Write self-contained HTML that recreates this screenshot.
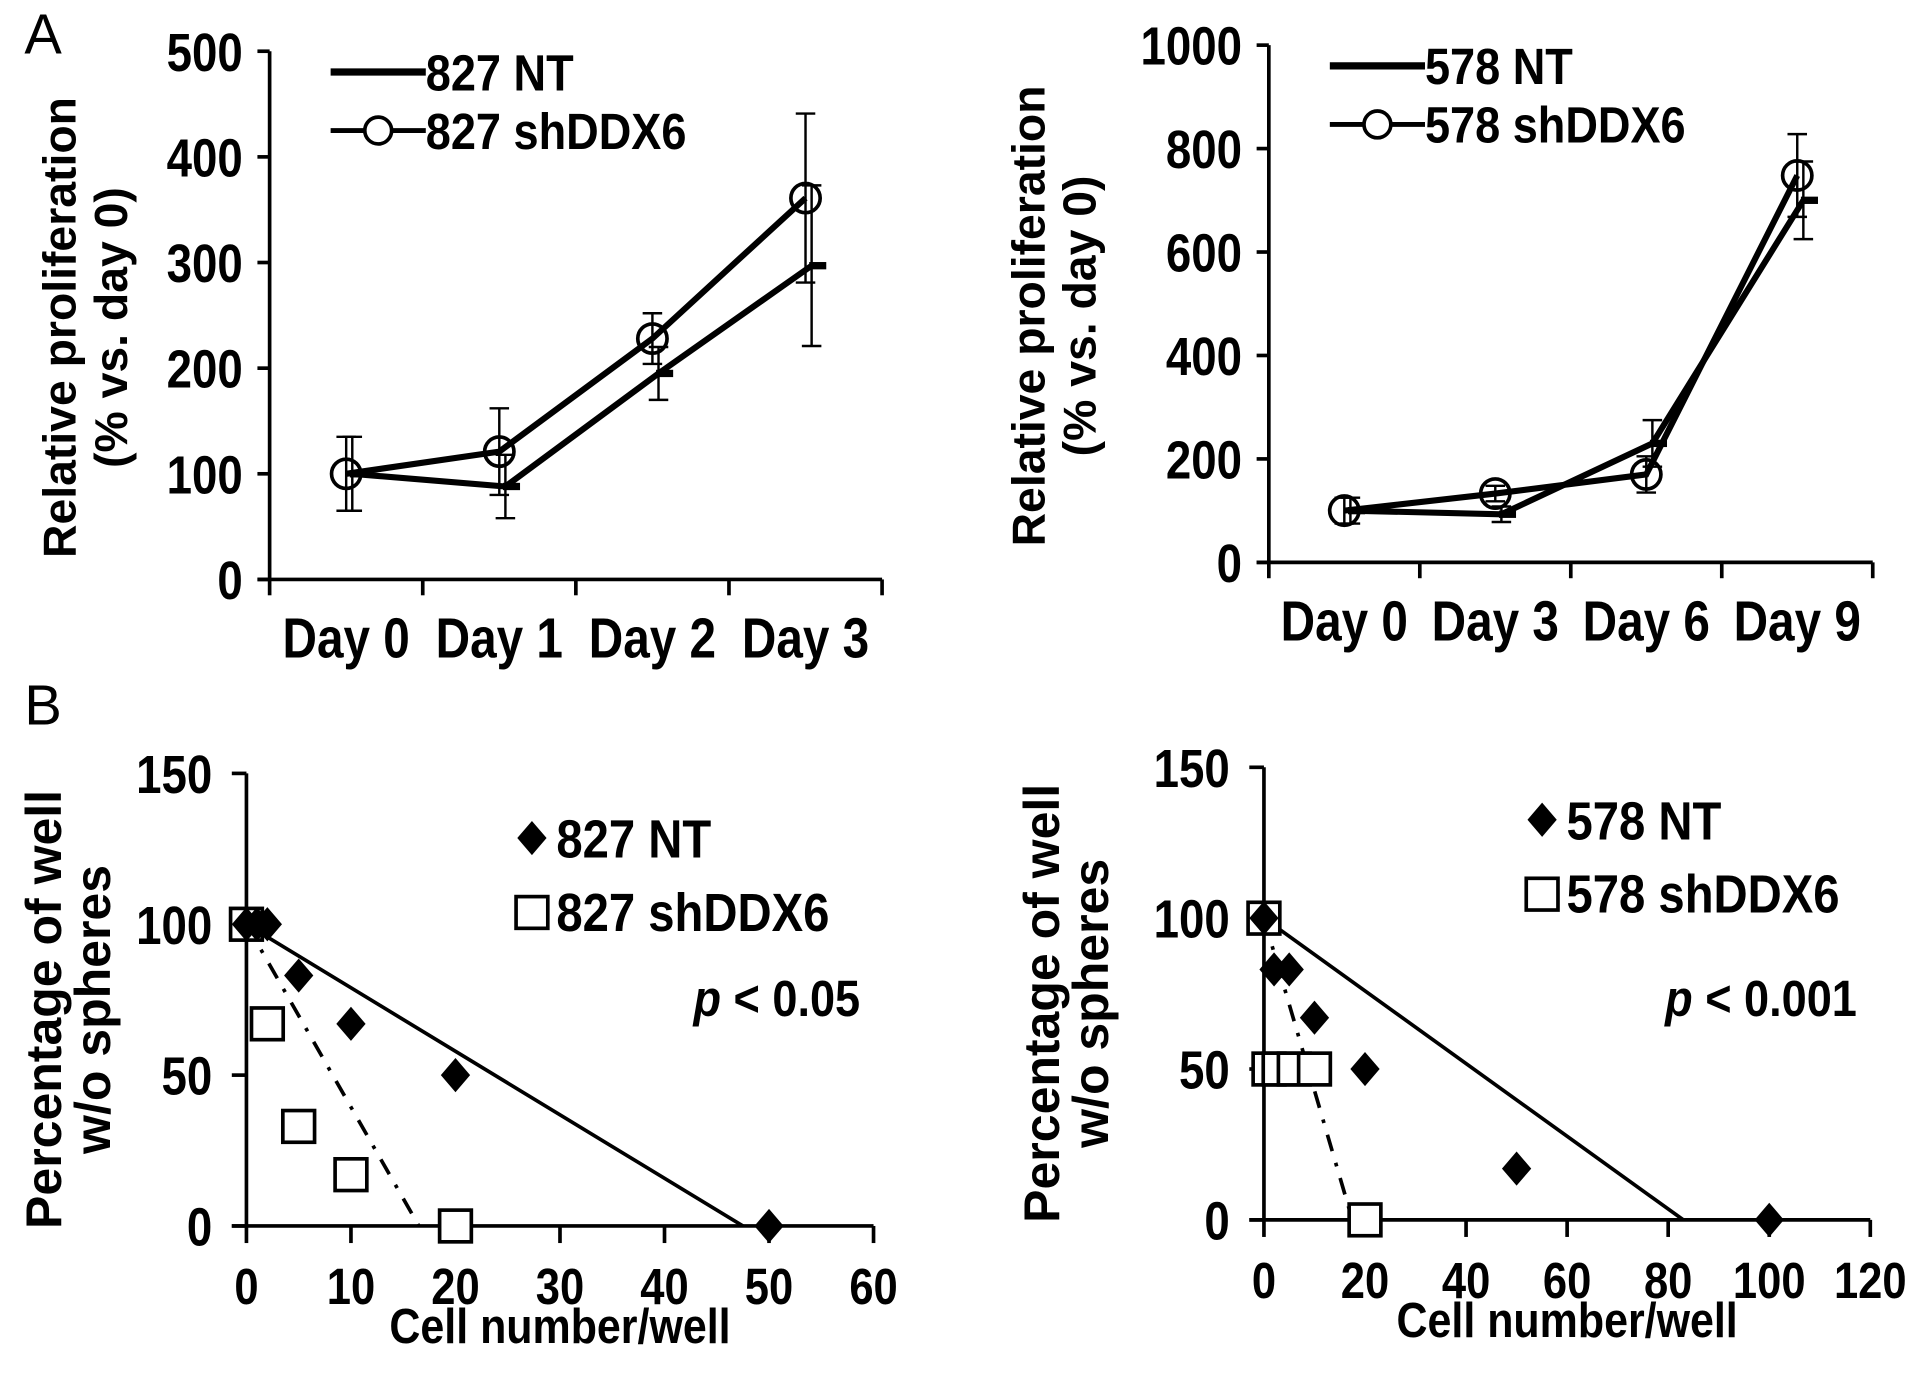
<!DOCTYPE html>
<html><head><meta charset="utf-8"><style>
html,body{margin:0;padding:0;background:#fff;}
svg{display:block;}
text{font-family:"Liberation Sans",Arial,sans-serif;fill:#000;}
</style></head><body>
<svg id="fig" width="1913" height="1387" viewBox="0 0 1568 1137" preserveAspectRatio="none" xmlns="http://www.w3.org/2000/svg"></svg>
<script>
// Panel A left data
const a1Cats = ["Day 0","Day 1","Day 2","Day 3"];
const a1NT = [100, 88, 195, 297];
const a1NTerr = [35, 30, 25, 76];
const a1SH = [100, 121, 228, 361];
const a1SHerr = [35, 41, 24, 80];
const a1Ticks = [0,100,200,300,400,500];
// Panel A right data
const a2Cats = ["Day 0","Day 3","Day 6","Day 9"];
const a2NT = [100, 93, 230, 700];
const a2NTerr = [25, 15, 45, 75];
const a2SH = [100, 133, 170, 748];
const a2SHerr = [25, 15, 35, 80];
const a2Ticks = [0,200,400,600,800,1000];
// Panel B left data
const b1NTx = [0,1,2,5,10,20,50];
const b1NTy = [100,100,100,83,67,50,0];
const b1SHx = [0,2,5,10,20];
const b1SHy = [100,67,33,17,0];
const b1NTfit = [[0,100],[47.5,0]];
const b1SHfit = [[0,100],[16.5,0]];
const b1XTicks = [0,10,20,30,40,50,60];
const b1YTicks = [0,50,100,150];
// Panel B right data
const b2NTx = [0,2,5,10,20,50,100];
const b2NTy = [100,83,83,67,50,17,0];
const b2SHx = [0,1,3,6,10,20];
const b2SHy = [100,50,50,50,50,0];
const b2NTfit = [[0,100],[83,0]];
const b2SHfit = [[0,100],[17.5,0]];
const b2XTicks = [0,20,40,60,80,100,120];
const b2YTicks = [0,50,100,150];

const svg = document.getElementById('fig');
const NS = "http://www.w3.org/2000/svg";
function el(tag, attrs, parent){
  const e = document.createElementNS(NS, tag);
  for (const k in attrs) e.setAttribute(k, attrs[k]);
  (parent||svg).appendChild(e);
  return e;
}
function txt(str, x, y, size, anchor, opts, parent){
  opts = opts||{};
  const sx = opts.sx||1;
  const t = el('text', {'font-size': size, 'font-weight': opts.weight||'bold', 'text-anchor': anchor||'start',
    transform: `translate(${x},${y}) ${opts.rot?'rotate(-90)':''} scale(${sx},1)`}, parent);
  if (opts.italic) t.setAttribute('font-style','italic');
  t.textContent = str;
  return t;
}
function line(x1,y1,x2,y2,w,parent,dash){
  const l = el('line',{x1,y1,x2,y2,stroke:'#000','stroke-width':w||3}, parent);
  if (dash) l.setAttribute('stroke-dasharray', dash);
  return l;
}

function lineChart(name, ax, cats, nt, ntErr, sh, shErr, ticks, legendNT, legendSH, titleX){
  const g = el('g',{});
  
  
  const ymax = ticks[ticks.length-1];
  const Y = v => ax.y0 - (v/ymax)*(ax.y0-ax.y1);
  const step = (ax.x1-ax.x0)/cats.length;
  const X = i => ax.x0 + step*(i+0.5);
  const ya = line(ax.x0, ax.y1, ax.x0, ax.y0, 3, g);
   
  const xa = line(ax.x0-10, ax.y0, ax.x1, ax.y0, 3, g);
   
  ticks.forEach(t => {
    line(ax.x0-10, Y(t), ax.x0, Y(t), 3, g);
    const l = txt(String(t), ax.x0-22, Y(t)+16, 44, 'end', {sx:0.85}, g);
    
    
  });
  for (let i=0;i<=cats.length;i++) line(ax.x0+step*i, ax.y0, ax.x0+step*i, ax.y0+13, 3, g);
  cats.forEach((c,i) => {
    const l = txt(c, X(i), ax.y0+64, 46, 'middle', {sx:0.85}, g);
    
    
  });
  const ptsNT = nt.map((v,i)=>`${X(i)+5},${Y(v)}`).join(' ');
  const pNT = el('polyline',{points:ptsNT, fill:'none', stroke:'#000','stroke-width':5}, g);
  
  
  nt.forEach((v,i)=>{
    const x = X(i)+5;
    line(x, Y(v-ntErr[i]), x, Y(v+ntErr[i]), 2, g);
    line(x-8, Y(v-ntErr[i]), x+8, Y(v-ntErr[i]), 2, g);
    line(x-8, Y(v+ntErr[i]), x+8, Y(v+ntErr[i]), 2, g);
    const m = el('rect',{x:x-2, y:Y(v)-3, width:14, height:6, fill:'#000'}, g);
    
    
  });
  const ptsSH = sh.map((v,i)=>`${X(i)},${Y(v)}`).join(' ');
  const pSH = el('polyline',{points:ptsSH, fill:'none', stroke:'#000','stroke-width':5}, g);
  
  
  sh.forEach((v,i)=>{
    const x = X(i);
    line(x, Y(v-shErr[i]), x, Y(v+shErr[i]), 2, g);
    line(x-8, Y(v-shErr[i]), x+8, Y(v-shErr[i]), 2, g);
    line(x-8, Y(v+shErr[i]), x+8, Y(v+shErr[i]), 2, g);
    const c = el('circle',{cx:x, cy:Y(v), r:12, fill:'none', stroke:'#000','stroke-width':3}, g);
    
    
  });
  const lg = el('g',{}, g);
  
  
  line(ax.x0+50, ax.y1+17, ax.x0+128, ax.y1+17, 6, lg);
  txt(legendNT, ax.x0+128, ax.y1+32, 42, 'start', {sx:0.88}, lg);
  line(ax.x0+50, ax.y1+65, ax.x0+128, ax.y1+65, 4, lg);
  el('circle',{cx:ax.x0+89, cy:ax.y1+65, r:11, fill:'#fff', stroke:'#000','stroke-width':3}, lg);
  txt(legendSH, ax.x0+128, ax.y1+80, 42, 'start', {sx:0.88}, lg);
  const t1 = txt('Relative proliferation', titleX, (ax.y0+ax.y1)/2+10, 38, 'middle', {rot:true}, g);
  
  
  const t2 = txt('(% vs. day 0)', titleX+42, (ax.y0+ax.y1)/2+10, 38, 'middle', {rot:true}, g);
  
  
}

function scatterChart(name, ax, ntx, nty, shx, shy, ntFit, shFit, xt, yt, legNT, legSH, titleX){
  const g = el('g',{});
  
  
  const xmax = xt[xt.length-1], ymax = yt[yt.length-1];
  const X = v => ax.x0 + v/xmax*(ax.x1-ax.x0);
  const Y = v => ax.y0 - v/ymax*(ax.y0-ax.y1);
  const ya = line(ax.x0, ax.y1, ax.x0, ax.y0, 3, g);
   
  const xa = line(ax.x0-12, ax.y0, ax.x1, ax.y0, 3, g);
   
  yt.forEach(t=>{
    line(ax.x0-12, Y(t), ax.x0, Y(t), 3, g);
    const l = txt(String(t), ax.x0-28, Y(t)+16, 44, 'end', {sx:0.85}, g);
    
    
  });
  xt.forEach(t=>{
    line(X(t), ax.y0, X(t), ax.y0+14, 3, g);
    const l = txt(String(t), X(t), ax.y0+64, 42, 'middle', {sx:0.85}, g);
    
    
  });
  const f1 = line(X(ntFit[0][0]),Y(ntFit[0][1]),X(ntFit[1][0]),Y(ntFit[1][1]),3,g);
   
  const f2 = line(X(shFit[0][0]),Y(shFit[0][1]),X(shFit[1][0]),Y(shFit[1][1]),3,g,'14 10 3 10');
   
  shx.forEach((v,i)=>{
    const r = el('rect',{x:X(v)-13, y:Y(shy[i])-13, width:26, height:26, fill:'#fff', stroke:'#000','stroke-width':3}, g);
    
    
  });
  ntx.forEach((v,i)=>{
    const x = X(v), y = Y(nty[i]);
    const d = el('polygon',{points:`${x},${y-14} ${x+12},${y} ${x},${y+14} ${x-12},${y}`, fill:'#000'}, g);
    
    
  });
  const lg = el('g',{}, g);
  
  
  const lx = ax.lx, ly = ax.ly;
  el('polygon',{points:`${lx},${ly-14} ${lx+12},${ly} ${lx},${ly+14} ${lx-12},${ly}`, fill:'#000'}, lg);
  txt(legNT, lx+20, ly+16, 44, 'start', {sx:0.88}, lg);
  el('rect',{x:lx-13, y:ly+48, width:26, height:26, fill:'#fff', stroke:'#000','stroke-width':3}, lg);
  txt(legSH, lx+20, ly+76, 44, 'start', {sx:0.88}, lg);
  const t1 = txt('Percentage of well', titleX, (ax.y0+ax.y1)/2+8, 41, 'middle', {rot:true}, g);
  
  
  const t2 = txt('w/o spheres', titleX+40, (ax.y0+ax.y1)/2+8, 41, 'middle', {rot:true}, g);
  
  
  const xt2 = txt('Cell number/well', (ax.x0+ax.x1)/2, ax.y0+96, 40, 'middle', {sx:0.88}, g);
  
  
}

const la = txt('A', 20, 44, 46, 'start', {weight:'normal'});


const lb = txt('B', 20, 594, 46, 'start', {weight:'normal'});



lineChart('proliferation-chart-827', {x0:221, x1:723, y0:475, y1:42}, a1Cats, a1NT, a1NTerr, a1SH, a1SHerr, a1Ticks, '827 NT', '827 shDDX6', 62);
lineChart('proliferation-chart-578', {x0:1040, x1:1535, y0:461, y1:37}, a2Cats, a2NT, a2NTerr, a2SH, a2SHerr, a2Ticks, '578 NT', '578 shDDX6', 856);

scatterChart('sphere-chart-827', {x0:202, x1:716, y0:1005, y1:634, lx:436, ly:687},
  b1NTx, b1NTy, b1SHx, b1SHy, b1NTfit, b1SHfit, b1XTicks, b1YTicks, '827 NT', '827 shDDX6', 50);
scatterChart('sphere-chart-578', {x0:1036, x1:1533, y0:1000, y1:629, lx:1264, ly:672},
  b2NTx, b2NTy, b2SHx, b2SHy, b2NTfit, b2SHfit, b2XTicks, b2YTicks, '578 NT', '578 shDDX6', 868);

function pLabel(x, y, val){
  const t = el('text',{'font-size':42,'font-weight':'bold','text-anchor':'end', transform:`translate(${x},${y}) scale(0.88,1)`});
  
  
  const s1 = el('tspan',{'font-style':'italic'}, t); s1.textContent = 'p';
  const s2 = el('tspan',{}, t); s2.textContent = ' < ' + val;
}
pLabel(705, 833, '0.05');
pLabel(1522, 833, '0.001');
</script>
</body></html>
